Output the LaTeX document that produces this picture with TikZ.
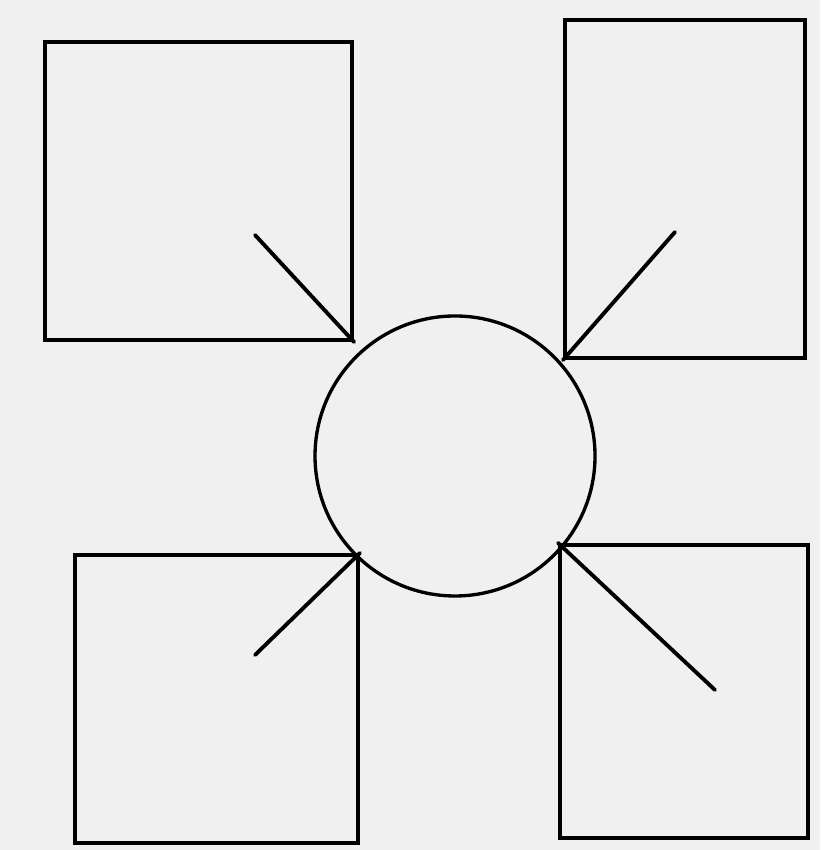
\documentclass[tikz,border=0pt]{standalone}
\usepackage{tikz}
\usetikzlibrary{positioning}

\begin{document}
\begin{tikzpicture}[
  box/.style={rectangle, draw, line width=1.2pt, inner sep=0pt},
  hubcircle/.style={circle, draw, line width=0.95pt, minimum size=2.8cm, inner sep=0pt},
  spoke/.style={line width=1.1pt, line cap=round}
]
\useasboundingbox[fill=gray!12] (0,0) rectangle (8.2,8.5);

% Corner boxes
\node[box, minimum width=3.07cm, minimum height=2.98cm] (tl) at (1.985,6.59) {};
\node[box, minimum width=2.40cm, minimum height=3.38cm] (tr) at (6.85,6.61) {};
\node[box, minimum width=2.83cm, minimum height=2.88cm] (bl) at (2.165,1.51) {};
\node[box, minimum width=2.48cm, minimum height=2.93cm] (br) at (6.84,1.585) {};

% Centre circle
\node[hubcircle] (hub) at (4.55,3.94) {};

% Free ends of the spokes
\coordinate (tlend) at (2.55,6.15);
\coordinate (trend) at (6.75,6.18);
\coordinate (blend) at (2.55,1.95);
\coordinate (brend) at (7.15,1.60);

\draw[spoke] (tl.south east) -- (tlend);
\draw[spoke] (tr.south west) -- (trend);
\draw[spoke] (bl.north east) -- (blend);
\draw[spoke] (br.north west) -- (brend);
\end{tikzpicture}
\end{document}
